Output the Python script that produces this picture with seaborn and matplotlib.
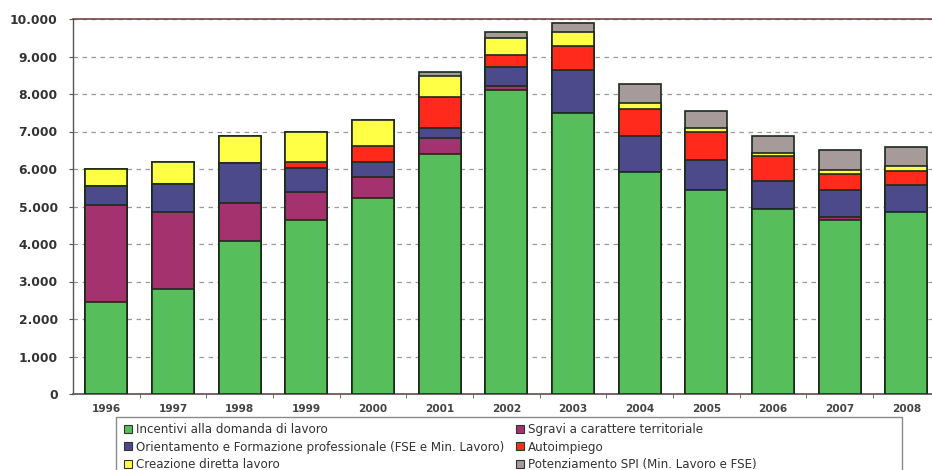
import matplotlib
matplotlib.use("Agg")
import matplotlib.pyplot as plt
import matplotlib.patches as mpatches
import numpy as np
import pandas as pd
import seaborn as sns

years = ["1996", "1997", "1998", "1999", "2000", "2001", "2002",
         "2003", "2004", "2005", "2006", "2007", "2008"]

incentivi = [2450, 2810, 4080, 4630, 5225, 6410, 8120, 7490, 5920, 5430, 4930, 4650, 4860]
sgravi = [2600, 2040, 1010, 750, 560, 420, 100, 0, 0, 0, 0, 60, 0]
orientamento = [510, 760, 1070, 650, 390, 260, 500, 1140, 950, 800, 740, 720, 720]
autoimpiego = [0, 0, 0, 160, 440, 830, 320, 660, 740, 750, 670, 440, 360]
creazione = [440, 570, 710, 800, 700, 550, 460, 360, 150, 110, 100, 110, 130]
potenziamento = [0, 0, 0, 0, 0, 110, 150, 250, 510, 470, 450, 540, 530]

labels = {
    "inc": "Incentivi alla domanda di lavoro",
    "sgr": "Sgravi a carattere territoriale",
    "ori": "Orientamento e Formazione professionale (FSE e Min. Lavoro)",
    "aut": "Autoimpiego",
    "cre": "Creazione diretta lavoro",
    "pot": "Potenziamento SPI (Min. Lavoro e FSE)",
}
colors = {
    "inc": "#56bf5c",
    "sgr": "#a3326f",
    "ori": "#4d4a8c",
    "aut": "#ff2a1c",
    "cre": "#ffff45",
    "pot": "#a69a9b",
}

# stacking order bottom -> top
stack = [("inc", incentivi), ("sgr", sgravi), ("ori", orientamento),
         ("aut", autoimpiego), ("cre", creazione), ("pot", potenziamento)]

df = pd.DataFrame({"year": years})
cum = np.zeros(len(years))
for key, vals in stack:
    cum = cum + np.array(vals, dtype=float)
    df[key] = cum.copy()

W, H = 932, 470
fig = plt.figure(figsize=(W / 100, H / 100), dpi=100)
ax = fig.add_axes([73 / W, 76 / H, (W - 73) / W, 375 / H])

# draw cumulative bars from the top layer down so lower layers overlay
for key, _ in reversed(stack):
    sns.barplot(data=df, x="year", y=key, color=colors[key], saturation=1,
                width=0.63, edgecolor="#1c2a1c", linewidth=1.2,
                errorbar=None, ax=ax, zorder=3)

ax.set_xlim(-0.5, 12.385)
ax.set_ylim(0, 10000)
ax.set_xlabel("")
ax.set_ylabel("")

yt = np.arange(0, 10001, 1000)
ax.set_yticks(yt)
ax.set_yticklabels([f"{v:,}".replace(",", ".") for v in yt],
                   fontsize=8.9, fontweight="bold", color="#333333")
ax.tick_params(axis="y", length=3, pad=8, color="#555555")
ax.tick_params(axis="x", which="major", length=0, pad=7, labelsize=7.6,
               labelcolor="#444444")
for t in ax.get_xticklabels():
    t.set_fontweight("bold")
ax.set_xticks(np.arange(0.5, 12.5, 1), minor=True)
ax.tick_params(axis="x", which="minor", length=3, color="#555555", direction="out")

ax.yaxis.grid(True, linestyle=(0, (3.6, 3.6)), color="#999999", linewidth=0.9, zorder=0)
ax.xaxis.grid(False)
ax.set_axisbelow(True)

ax.spines["right"].set_visible(False)
ax.spines["top"].set_color("#6e3838")
ax.spines["top"].set_linewidth(1.1)
ax.spines["left"].set_color("#555555")
ax.spines["left"].set_linewidth(1.0)
ax.spines["bottom"].set_color("#6a5a5a")
ax.spines["bottom"].set_linewidth(1.3)

# legend frame
frame = mpatches.Rectangle((116 / W, -0.05), (902 - 116) / W, (470 - 417) / H + 0.05,
                           transform=fig.transFigure, fill=False,
                           edgecolor="#8a8a8a", linewidth=1.0)
fig.patches.append(frame)

def handle(k):
    return mpatches.Patch(facecolor=colors[k], edgecolor="#333333", linewidth=0.8)

col1 = ["inc", "ori", "cre"]
col2 = ["sgr", "aut", "pot"]
common = dict(loc="upper left", frameon=False, fontsize=8.6, borderpad=0,
              borderaxespad=0, handlelength=0.65, handleheight=0.65,
              handletextpad=0.35, labelspacing=0.38)
leg1 = fig.legend([handle(k) for k in col1], [labels[k] for k in col1],
                  bbox_to_anchor=(124 / W, 1 - 423 / H), **common)
leg2 = fig.legend([handle(k) for k in col2], [labels[k] for k in col2],
                  bbox_to_anchor=(516 / W, 1 - 423 / H), **common)
for leg in (leg1, leg2):
    for t in leg.get_texts():
        t.set_color("#333333")

fig.savefig("out.png", dpi=100)
